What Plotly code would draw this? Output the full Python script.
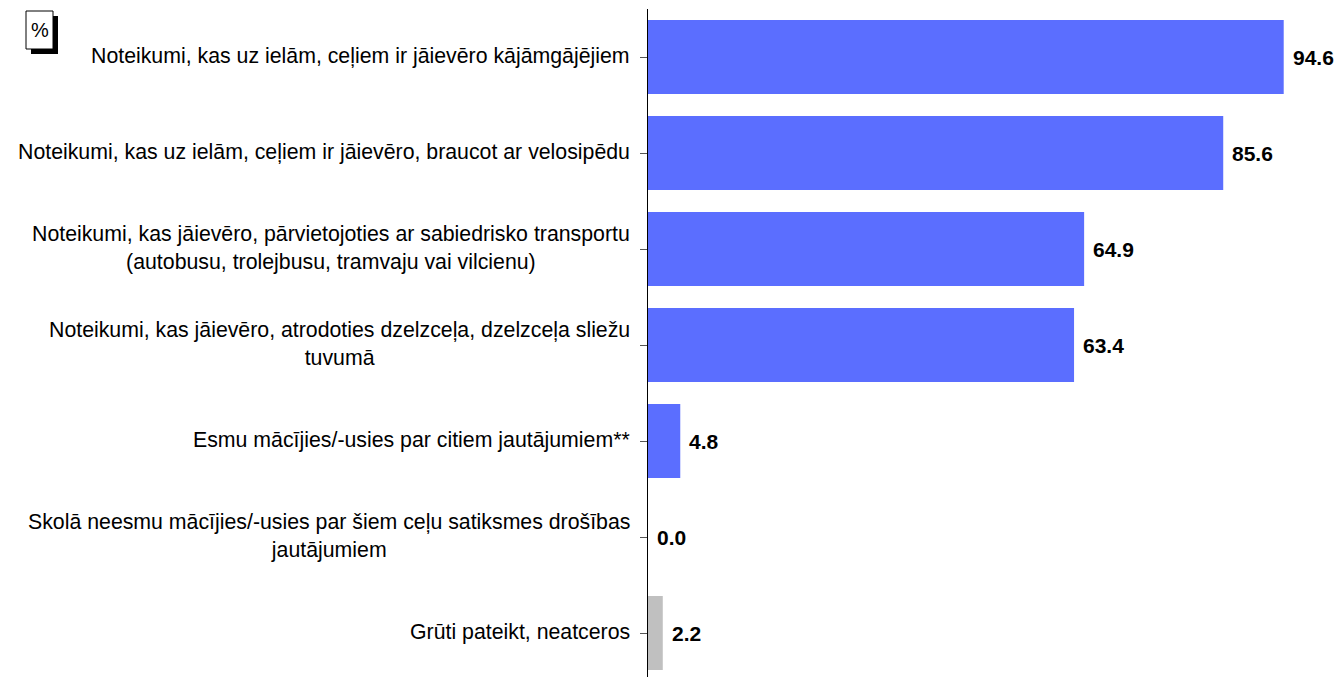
import plotly.graph_objects as go

# data
categories = [
    "Noteikumi, kas uz ielām, ceļiem ir jāievēro kājāmgājējiem",
    "Noteikumi, kas uz ielām, ceļiem ir jāievēro, braucot ar velosipēdu",
    "Noteikumi, kas jāievēro, pārvietojoties ar sabiedrisko transportu<br>(autobusu, trolejbusu, tramvaju vai vilcienu)",
    "Noteikumi, kas jāievēro, atrodoties dzelzceļa, dzelzceļa sliežu<br>tuvumā",
    "Esmu mācījies/-usies par citiem jautājumiem**",
    "Skolā neesmu mācījies/-usies par šiem ceļu satiksmes drošības<br>jautājumiem",
    "Grūti pateikt, neatceros",
]
values = [94.6, 85.6, 64.9, 63.4, 4.8, 0.0, 2.2]
colors = ["#5B6EFF"] * 6 + ["#C0C0C0"]

W, H = 1334, 677
ML = 648
FONT = "Arial"

fig = go.Figure(go.Bar(
    x=values, y=list(range(len(categories))), orientation="h",
    marker=dict(color=colors, line=dict(width=0)), width=0.77,
    hoverinfo="skip",
))

# value labels
for i, v in enumerate(values):
    fig.add_annotation(x=v, y=i, text=f"<b>{v:.1f}</b>", showarrow=False,
                       xanchor="left", xshift=7,
                       font=dict(family=FONT, size=21, color="black"))

# category labels (multi-line ones are centred)
for i, cat in enumerate(categories):
    fig.add_annotation(xref="paper", x=0, y=i, text=cat, showarrow=False,
                       xanchor="right", align="center", xshift=-16, yshift=1,
                       font=dict(family=FONT, size=21.3, color="black"))

# "%" box with shadow
def px(xp):
    return (xp - ML) / (W - ML)

def py(yp):
    return 1 - (yp - 9) / (H - 9)

fig.add_shape(type="rect", xref="paper", yref="paper",
              x0=px(31), x1=px(58), y0=py(54), y1=py(16),
              fillcolor="black", line=dict(width=0))
fig.add_shape(type="rect", xref="paper", yref="paper",
              x0=px(26), x1=px(53), y0=py(49), y1=py(11),
              fillcolor="white", line=dict(color="black", width=1))
fig.add_annotation(xref="paper", yref="paper", x=px(39.5), y=py(30),
                   text="%", showarrow=False, xanchor="center", yanchor="middle",
                   font=dict(family=FONT, size=20, color="black"))

fig.update_layout(
    width=W, height=H,
    margin=dict(l=ML, r=0, t=9, b=0),
    plot_bgcolor="white", paper_bgcolor="white",
    showlegend=False,
    xaxis=dict(range=[0, (W - ML) / 6.72], visible=False),
    yaxis=dict(
        range=[6.458, -0.5],
        tickmode="array", tickvals=list(range(len(categories))),
        ticktext=[""] * len(categories),
        showline=True, linecolor="black", linewidth=1,
        ticks="outside", ticklen=7, tickcolor="#555555",
        tickson="boundaries", showgrid=False, zeroline=False,
    ),
)

fig.write_html("out.html", config={"displayModeBar": False},
               post_script="document.body.style.margin='0';document.body.style.overflow='hidden';")
